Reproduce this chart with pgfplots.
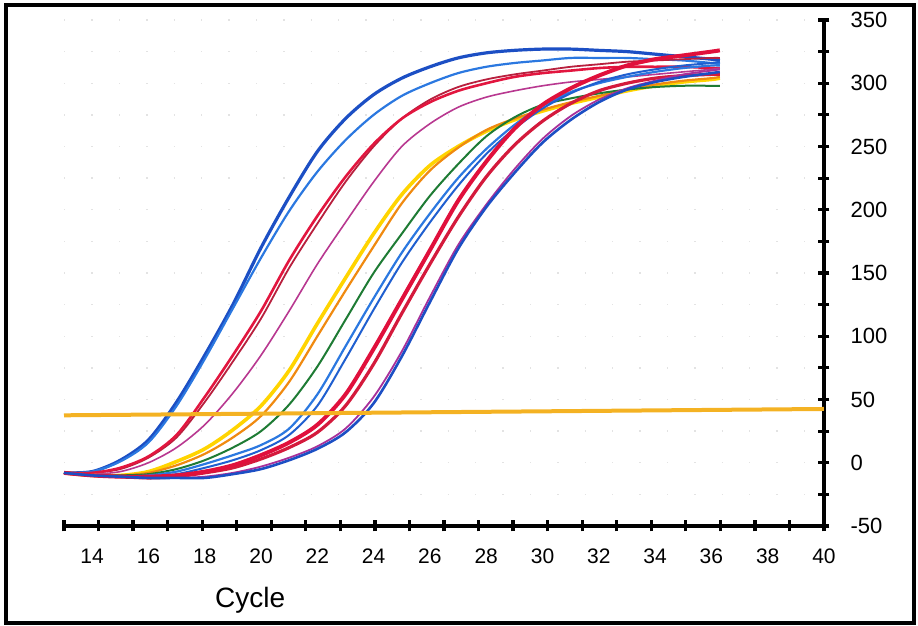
\documentclass[border=0pt]{standalone}
\usepackage{fontspec}
\setmainfont{Liberation Sans}
\usepackage{pgfplots}
\usepackage{pgfplotstable}
\pgfplotsset{compat=1.18}

\definecolor{bluedk}{HTML}{1C4FC4}
\definecolor{bluemd}{HTML}{2B78E0}
\definecolor{bluef}{HTML}{1F5FD0}
\definecolor{redA}{HTML}{E2163F}
\definecolor{redB}{HTML}{B8203E}
\definecolor{magC}{HTML}{B83890}
\definecolor{orD}{HTML}{F08A10}
\definecolor{yeD}{HTML}{FFD400}
\definecolor{grE}{HTML}{1E7B34}
\definecolor{redG}{HTML}{E0103C}
\definecolor{redG2}{HTML}{D41A3C}
\definecolor{magH}{HTML}{A8309A}
\definecolor{thr}{HTML}{F4B223}

% amplification curves
\pgfplotstableread{
c    A1  A2  B1  B2  C   Dor Dye E   F1  F2  G1  G2  H1  H2
13   -8  -8  -8  -8  -8  -8  -8  -8  -8  -8  -8  -8  -8  -8
14   -7  -7  -8  -8  -9  -10 -10 -10 -10 -10 -10 -10 -10 -10
15   2   1   -4  -5  -7  -10 -10 -10 -11 -11 -11 -11 -11 -11
16   18  16  5   4   0   -8  -7  -9  -10 -11 -11 -12 -12 -12
17   48  45  22  20  12  -2  1   -5  -7  -9  -10 -11 -12 -12
18   85  82  52  48  30  7   11  2   -1  -4  -7  -8  -11 -12
19   125 122 85  80  55  20  26  12  6   2   -2  -4  -8  -9
20   170 162 120 114 85  37  45  25  14  10  6   3   -3  -5
21   210 199 160 154 120 64  73  46  27  22  16  12  4   2
22   246 230 195 189 157 100 110 76  54  45  30  24  13  11
23   272 255 226 222 190 136 146 113 92  82  54  45  27  24
24   291 275 252 250 222 171 181 150 130 121 90  78  52  47
25   304 290 272 272 250 205 212 181 166 158 129 118 88  84
26   313 300 285 287 268 231 235 211 197 190 168 157 131 127
27   320 308 294 297 281 249 250 236 225 219 207 194 172 169
28   324 313 300 303 289 263 262 258 248 244 238 226 204 202
29   326 316 305 307 294 272 271 273 267 264 264 251 232 229
30   327 318 308 310 298 279 278 283 282 280 283 270 256 253
31   327 320 310 313 301 285 284 288 293 292 296 284 274 271
32   326 320 312 315 303 290 289 292 300 301 306 294 287 285
33   325 320 313 317 305 295 294 295 305 307 314 300 296 295
34   323 319 313 318 307 299 298 297 309 311 319 304 302 301
35   321 318 313 319 309 302 301 298 312 314 322 306 307 305
36   319 316 312 320 311 304 303 298 314 316 325 307 310 308
36.3 318 315 312 320 312 305 304 298 314 317 326 307 311 309
}\curves

\begin{document}
\begin{tikzpicture}
\useasboundingbox (-32pt,-50pt) rectangle (427pt,263pt);
\draw[line width=2.2pt] (-29pt,-48.5pt) rectangle (425pt,260.5pt);
\begin{axis}[
  at={(0,0)}, anchor=south west,
  width=380pt, height=253pt, scale only axis,
  xmin=13, xmax=40, ymin=-50, ymax=350,
  axis x line=bottom, axis y line=right,
  axis line style={line width=1.6pt,-},
  every tick/.style={black,line width=1.6pt},
  tick align=center,
  major tick length=5.5pt, minor tick length=5.5pt,
  xtick={13,14.2273,15.4545,16.6818,17.9091,19.1364,20.3636,21.5909,22.8182,24.0455,25.2727,26.5,27.7273,28.9545,30.1818,31.4091,32.6364,33.8636,35.0909,36.3182,37.5455,38.7727,40},
  xticklabels={},
  extra x ticks={14,16,...,40},
  extra x tick style={major tick length=0pt},
  xticklabel style={font=\fontsize{10.5}{12}\selectfont, yshift=-8pt},
  ytick={-50,0,...,350},
  minor y tick num=1,
  yticklabel style={font=\fontsize{11}{13}\selectfont, xshift=7pt},
  /pgf/number format/assume math mode=true,
  ymajorgrids, yminorgrids,
  major grid style={gray!22, line width=0.7pt, dash pattern=on 0.7pt off 13pt},
  minor grid style={gray!22, line width=0.7pt, dash pattern=on 0.7pt off 13pt},
  xlabel={Cycle},
  xlabel style={font=\fontsize{14}{16}\selectfont, at={(axis description cs:0.245,0)}, anchor=center, yshift=-37pt},
]
\addplot[color=bluedk, line width=1.6pt, smooth] table[x=c,y=A1] {\curves};
\addplot[color=bluemd, line width=1.1pt, smooth] table[x=c,y=A2] {\curves};
\addplot[color=redB, line width=0.9pt, smooth] table[x=c,y=B2] {\curves};
\addplot[color=redA, line width=1.3pt, smooth] table[x=c,y=B1] {\curves};
\addplot[color=magC, line width=0.8pt, smooth] table[x=c,y=C] {\curves};
\addplot[color=yeD, line width=1.8pt, smooth] table[x=c,y=Dye] {\curves};
\addplot[color=orD, line width=1.1pt, smooth] table[x=c,y=Dor] {\curves};
\addplot[color=grE, line width=1.0pt, smooth] table[x=c,y=E] {\curves};
\addplot[color=bluemd, line width=1.1pt, smooth] table[x=c,y=F1] {\curves};
\addplot[color=bluef, line width=1.0pt, smooth] table[x=c,y=F2] {\curves};
\addplot[color=redG2, line width=1.6pt, smooth] table[x=c,y=G2] {\curves};
\addplot[color=redG, line width=2.0pt, smooth] table[x=c,y=G1] {\curves};
\addplot[color=magH, line width=0.9pt, smooth] table[x=c,y=H1] {\curves};
\addplot[color=bluedk, line width=1.3pt, smooth] table[x=c,y=H2] {\curves};
% threshold
\addplot[color=thr, line width=2pt] coordinates {(13,37.5) (40,42.5)};
\end{axis}
\end{tikzpicture}
\end{document}
